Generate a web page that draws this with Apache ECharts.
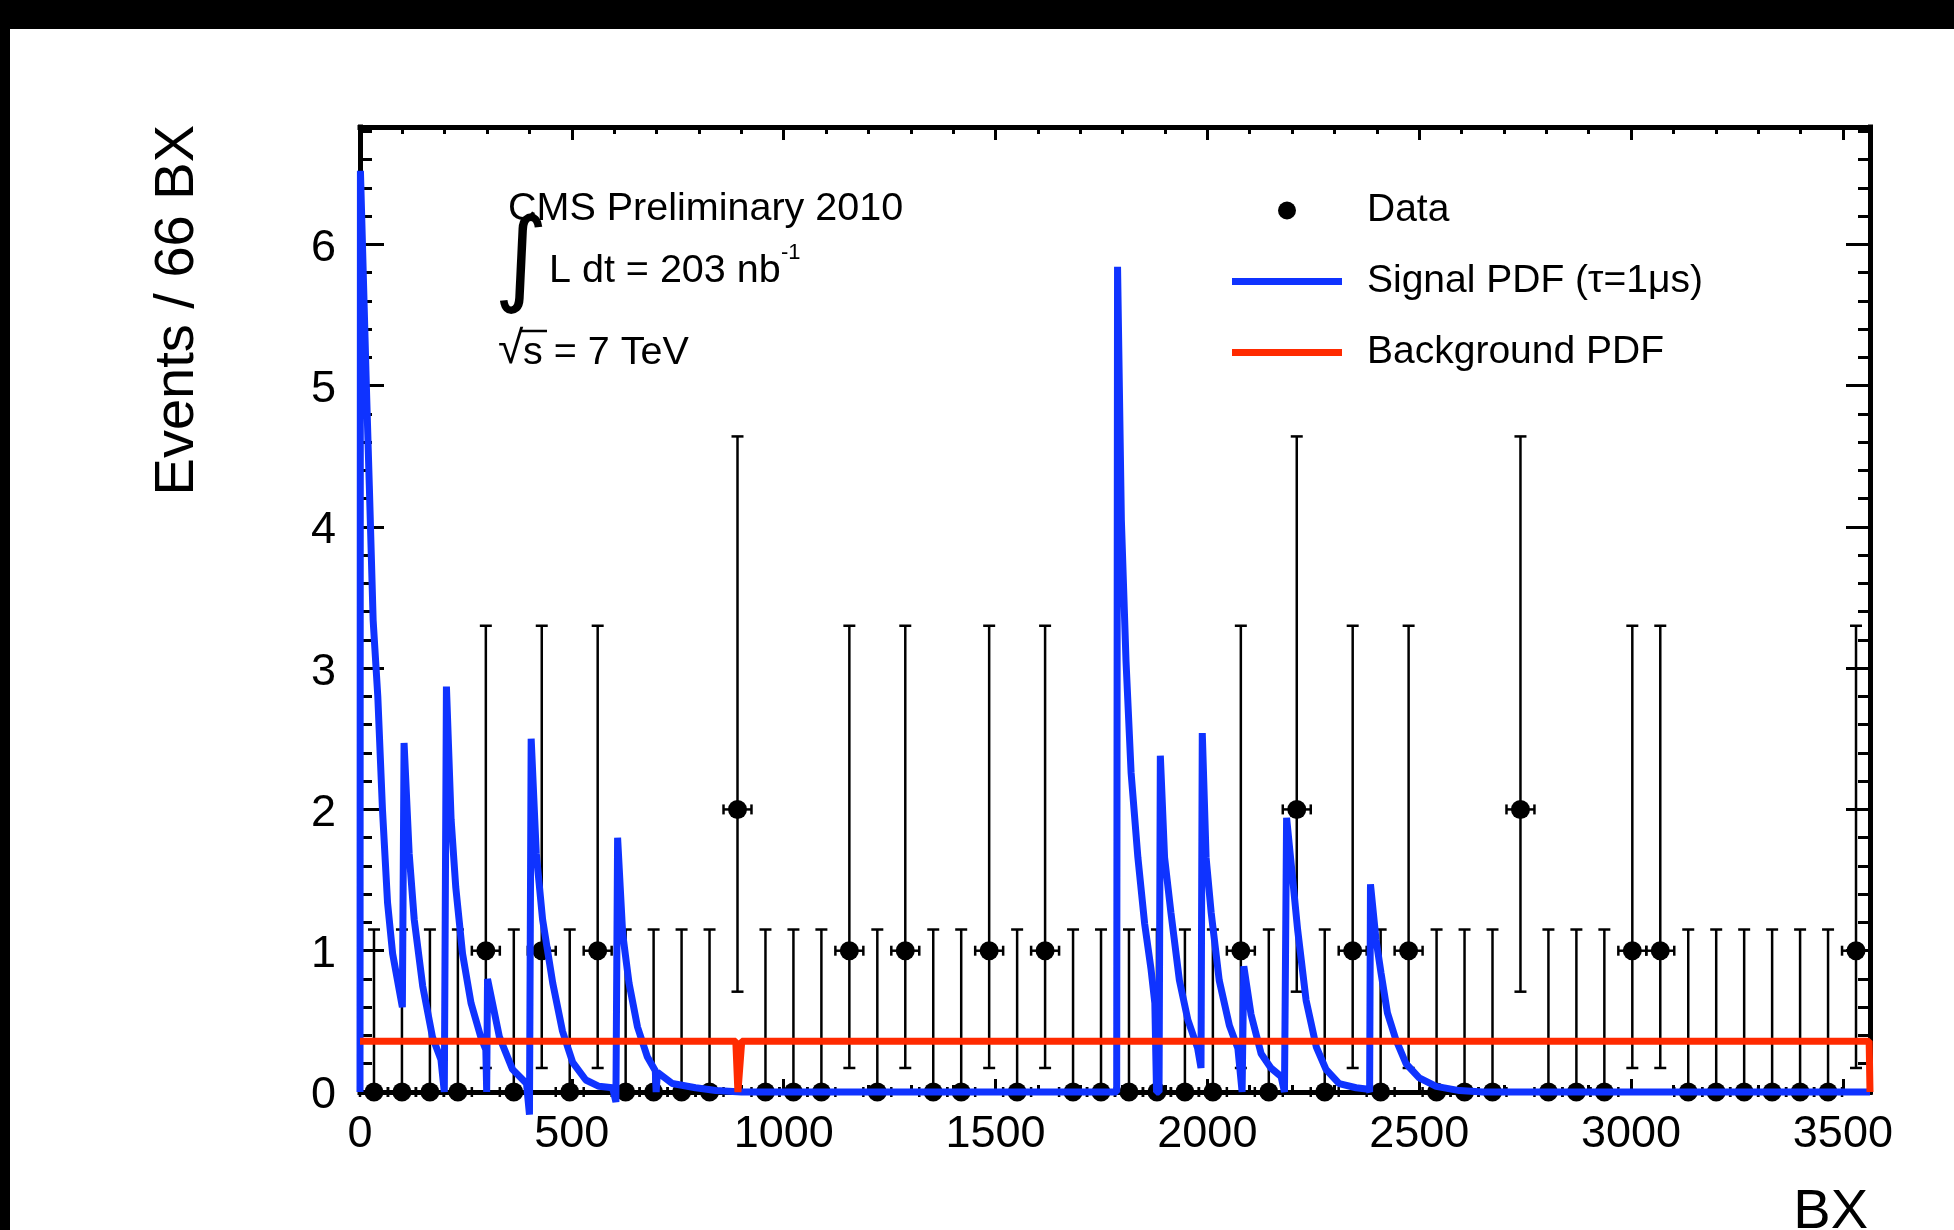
<!DOCTYPE html>
<html>
<head>
<meta charset="utf-8">
<script src="https://cdn.jsdelivr.net/npm/echarts@6/dist/echarts.min.js"></script>
<style>
html,body{margin:0;padding:0;background:#fff;}
#chart{width:1954px;height:1230px;}
</style>
</head>
<body>
<div id="chart"></div>
<script>
// ---------------- data ----------------
const binWidth = 66;            // "Events / 66 BX"
const bxMax = 3564;
const yMax = 6.83;
// events per bin (54 bins of 66 BX)
const counts = [0,0,0,0,1,0,1,0,1,0, 0,0,0,2,0,0,0,1,0,1, 0,0,1,0,1,0,0,0,0,0, 0,1,0,2,0,1,0,1,0,0, 0,2,0,0,0,1,1,0,0,0, 0,0,0,1];
// Poisson error bars (lower / upper) indexed by count
const errLowByCount  = [0, 0.83, 1.29];
const errHighByCount = [1.15, 2.30, 2.64];
// signal PDF polyline (BX, value)
const sigBX  = [0, 1, 15, 22, 31, 42, 53, 65, 77, 100,
                104, 116, 128, 148, 171, 191, 199,
                204, 215, 226, 242, 262, 285, 297, 299,
                301, 329, 360, 393, 400,
                404, 416, 431, 455, 478, 502, 533, 564, 596, 604,
                608, 620, 635, 655, 678, 697, 699,
                702, 737, 792, 840, 900, 1786,
                1788, 1797, 1808, 1820, 1836, 1852, 1867, 1876, 1880, 1886,
                1889, 1899, 1914, 1934, 1954, 1977, 1985,
                1988, 1997, 2009, 2028, 2052, 2072, 2082,
                2086, 2103, 2127, 2150, 2174, 2182,
                2187, 2200, 2213, 2233, 2257, 2280, 2311, 2351, 2380, 2383,
                2385, 2398, 2410, 2425, 2445, 2469, 2500, 2540, 2595, 2650, 3564];
const sigVal = [0, 6.52, 5.0, 4.29, 3.34, 2.8, 2.0, 1.34, 0.98, 0.60,
                2.47, 1.69, 1.22, 0.75, 0.39, 0.23, 0,
                2.87, 1.93, 1.45, 0.98, 0.63, 0.39, 0.30, 0,
                0.80, 0.39, 0.16, 0.06, -0.16,
                2.50, 1.69, 1.22, 0.77, 0.43, 0.21, 0.085, 0.04, 0.03, -0.07,
                1.80, 1.12, 0.77, 0.46, 0.25, 0.15, 0,
                0.14, 0.06, 0.03, 0.01, 0, 0,
                5.84, 4.05, 3.05, 2.26, 1.66, 1.19, 0.87, 0.63, 0, 0,
                2.38, 1.66, 1.27, 0.79, 0.51, 0.31, 0.17,
                2.54, 1.66, 1.27, 0.79, 0.47, 0.31, 0,
                0.89, 0.55, 0.27, 0.17, 0.11, 0,
                1.94, 1.55, 1.15, 0.65, 0.32, 0.16, 0.06, 0.03, 0.02, 0,
                1.47, 1.08, 0.84, 0.56, 0.37, 0.20, 0.10, 0.04, 0.01, 0, 0];
// background PDF polyline
const bkgBX  = [0, 887, 892, 896, 901, 3562, 3564];
const bkgVal = [0.36, 0.36, 0, 0, 0.36, 0.36, 0];
const xTickLabels = [0, 500, 1000, 1500, 2000, 2500, 3000, 3500];
const yTickLabels = [0, 1, 2, 3, 4, 5, 6];

// ---------------- build series data ----------------
const binCenters = counts.map((_, i) => binWidth * (i + 0.5));
const pointData = counts.map((c, i) => [binCenters[i], c]);
const errData = counts.map((c, i) => [binCenters[i], c, errLowByCount[c], errHighByCount[c]]);
const sigData = sigBX.map((x, i) => [x, sigVal[i]]);
const bkgData = bkgBX.map((x, i) => [x, bkgVal[i]]);

const FONT = '"Liberation Sans", Arial, Helvetica, sans-serif';
const BLUE = '#0f33ff';
const RED = '#ff2a00';

function xAxisDef(pos, interval, tickLen, withLabels, withLine) {
  return {
    type: 'value', position: pos, min: 0, max: bxMax, interval: interval,
    axisLine: { show: withLine, onZero: false, lineStyle: { color: '#000', width: 5, cap: 'square' } },
    axisTick: { show: true, inside: true, length: tickLen, lineStyle: { color: '#000', width: 3 } },
    axisLabel: {
      show: withLabels, margin: 20, color: '#000', fontSize: 45, fontFamily: FONT,
      showMaxLabel: false,
      formatter: v => (xTickLabels.indexOf(v) >= 0 ? String(v) : '')
    },
    splitLine: { show: false }
  };
}
function yAxisDef(pos, interval, tickLen, withLabels, withLine) {
  return {
    type: 'value', position: pos, min: 0, max: yMax, interval: interval,
    axisLine: { show: withLine, onZero: false, lineStyle: { color: '#000', width: 5, cap: 'square' } },
    axisTick: { show: true, inside: true, length: tickLen, lineStyle: { color: '#000', width: 3 } },
    axisLabel: {
      show: withLabels, margin: 24, color: '#000', fontSize: 45, fontFamily: FONT,
      verticalAlign: 'top', lineHeight: 8,
      showMaxLabel: false,
      formatter: v => (yTickLabels.indexOf(v) >= 0 ? String(v) : '')
    },
    splitLine: { show: false }
  };
}

const chart = echarts.init(document.getElementById('chart'), null, { renderer: 'canvas' });
chart.setOption({
  animation: false,
  backgroundColor: '#ffffff',
  grid: { left: 360, top: 127, width: 1510, height: 965, containLabel: false },
  xAxis: [
    xAxisDef('bottom', 500, 13, true, true),
    xAxisDef('bottom', 100, 7, false, false),
    xAxisDef('top', 500, 13, false, true),
    xAxisDef('top', 100, 7, false, false)
  ],
  yAxis: [
    yAxisDef('left', 1, 24, true, true),
    yAxisDef('left', 0.2, 12, false, false),
    yAxisDef('right', 1, 24, false, true),
    yAxisDef('right', 0.2, 12, false, false)
  ],
  legend: {
    orient: 'vertical', left: 1227, top: 186, itemWidth: 110, itemHeight: 18, itemGap: 32,
    selectedMode: false,
    itemStyle: { borderWidth: 0 },
    textStyle: { fontSize: 39, lineHeight: 38, fontFamily: FONT, color: '#000', padding: [0, 0, 0, 20] },
    data: [
      { name: 'Data', icon: 'circle' },
      { name: 'Signal PDF (τ=1μs)', icon: 'path://M0,0L110,0L110,7L0,7Z' },
      { name: 'Background PDF', icon: 'path://M0,0L110,0L110,7L0,7Z' }
    ]
  },
  graphic: [
    { type: 'rect', silent: true, shape: { x: 0, y: 0, width: 1954, height: 29 }, style: { fill: '#000' } },
    { type: 'rect', silent: true, shape: { x: 0, y: 0, width: 10, height: 1230 }, style: { fill: '#000' } },
    { type: 'text', x: 508, y: 209, style: { text: 'CMS Preliminary 2010', font: '39.5px ' + FONT, fill: '#000', align: 'left', verticalAlign: 'middle' } },
    { type: 'text', x: 521, y: 265, style: { text: '∫', font: '104px "DejaVu Sans"', fill: '#000', align: 'center', verticalAlign: 'middle' } },
    { type: 'text', x: 549, y: 271, style: { text: 'L dt = 203 nb', font: '39.5px ' + FONT, fill: '#000', align: 'left', verticalAlign: 'middle' } },
    { type: 'text', x: 781, y: 253, style: { text: '-1', font: '22px ' + FONT, fill: '#000', align: 'left', verticalAlign: 'middle' } },
    { type: 'text', x: 498, y: 350, style: { text: '√', font: '46px ' + FONT, fill: '#000', align: 'left', verticalAlign: 'middle' } },
    { type: 'text', x: 523, y: 353, style: { text: 's = 7 TeV', font: '39.5px ' + FONT, fill: '#000', align: 'left', verticalAlign: 'middle' } },
    { type: 'line', shape: { x1: 521, y1: 331, x2: 547, y2: 331 }, style: { stroke: '#000', lineWidth: 2.5 } },
    { type: 'text', x: 178, y: 125, rotation: Math.PI / 2, style: { text: 'Events / 66 BX', font: '56px ' + FONT, fill: '#000', align: 'right', verticalAlign: 'middle' } },
    { type: 'text', x: 1868, y: 1213, style: { text: 'BX', font: '56px ' + FONT, fill: '#000', align: 'right', verticalAlign: 'middle' } }
  ],
  series: [
    {
      name: 'Data errors', type: 'custom', xAxisIndex: 0, yAxisIndex: 0, z: 2,
      data: errData,
      renderItem: function (params, api) {
        const x = api.value(0), y = api.value(1), lo = api.value(2), hi = api.value(3);
        const c = api.coord([x, y]);
        const top = api.coord([x, y + hi]);
        const bot = api.coord([x, y - lo]);
        const l = api.coord([x - binWidth / 2, y]);
        const r = api.coord([x + binWidth / 2, y]);
        const cw = 6, ch = 5;
        const st = { stroke: '#000', lineWidth: 2.5 };
        return {
          type: 'group', children: [
            { type: 'line', shape: { x1: c[0], y1: top[1], x2: c[0], y2: bot[1] }, style: st },
            { type: 'line', shape: { x1: c[0] - cw, y1: top[1], x2: c[0] + cw, y2: top[1] }, style: st },
            { type: 'line', shape: { x1: c[0] - cw, y1: bot[1], x2: c[0] + cw, y2: bot[1] }, style: st },
            { type: 'line', shape: { x1: l[0], y1: c[1], x2: r[0], y2: c[1] }, style: st },
            { type: 'line', shape: { x1: l[0], y1: c[1] - ch, x2: l[0], y2: c[1] + ch }, style: st },
            { type: 'line', shape: { x1: r[0], y1: c[1] - ch, x2: r[0], y2: c[1] + ch }, style: st }
          ]
        };
      }
    },
    {
      name: 'Data', type: 'scatter', xAxisIndex: 0, yAxisIndex: 0, z: 3,
      symbol: 'circle', symbolSize: 19,
      itemStyle: { color: '#000', opacity: 1 },
      data: pointData
    },
    {
      name: 'Signal PDF (τ=1μs)', type: 'line', xAxisIndex: 0, yAxisIndex: 0, z: 4,
      clip: false, symbol: 'none', showSymbol: false, smooth: false,
      itemStyle: { color: BLUE },
      lineStyle: { color: BLUE, width: 7, join: 'bevel', cap: 'butt' },
      data: sigData
    },
    {
      name: 'Background PDF', type: 'line', xAxisIndex: 0, yAxisIndex: 0, z: 5,
      clip: false, symbol: 'none', showSymbol: false, smooth: false,
      itemStyle: { color: RED },
      lineStyle: { color: RED, width: 7, join: 'bevel', cap: 'butt' },
      data: bkgData
    }
  ]
});
</script>
</body>
</html>
